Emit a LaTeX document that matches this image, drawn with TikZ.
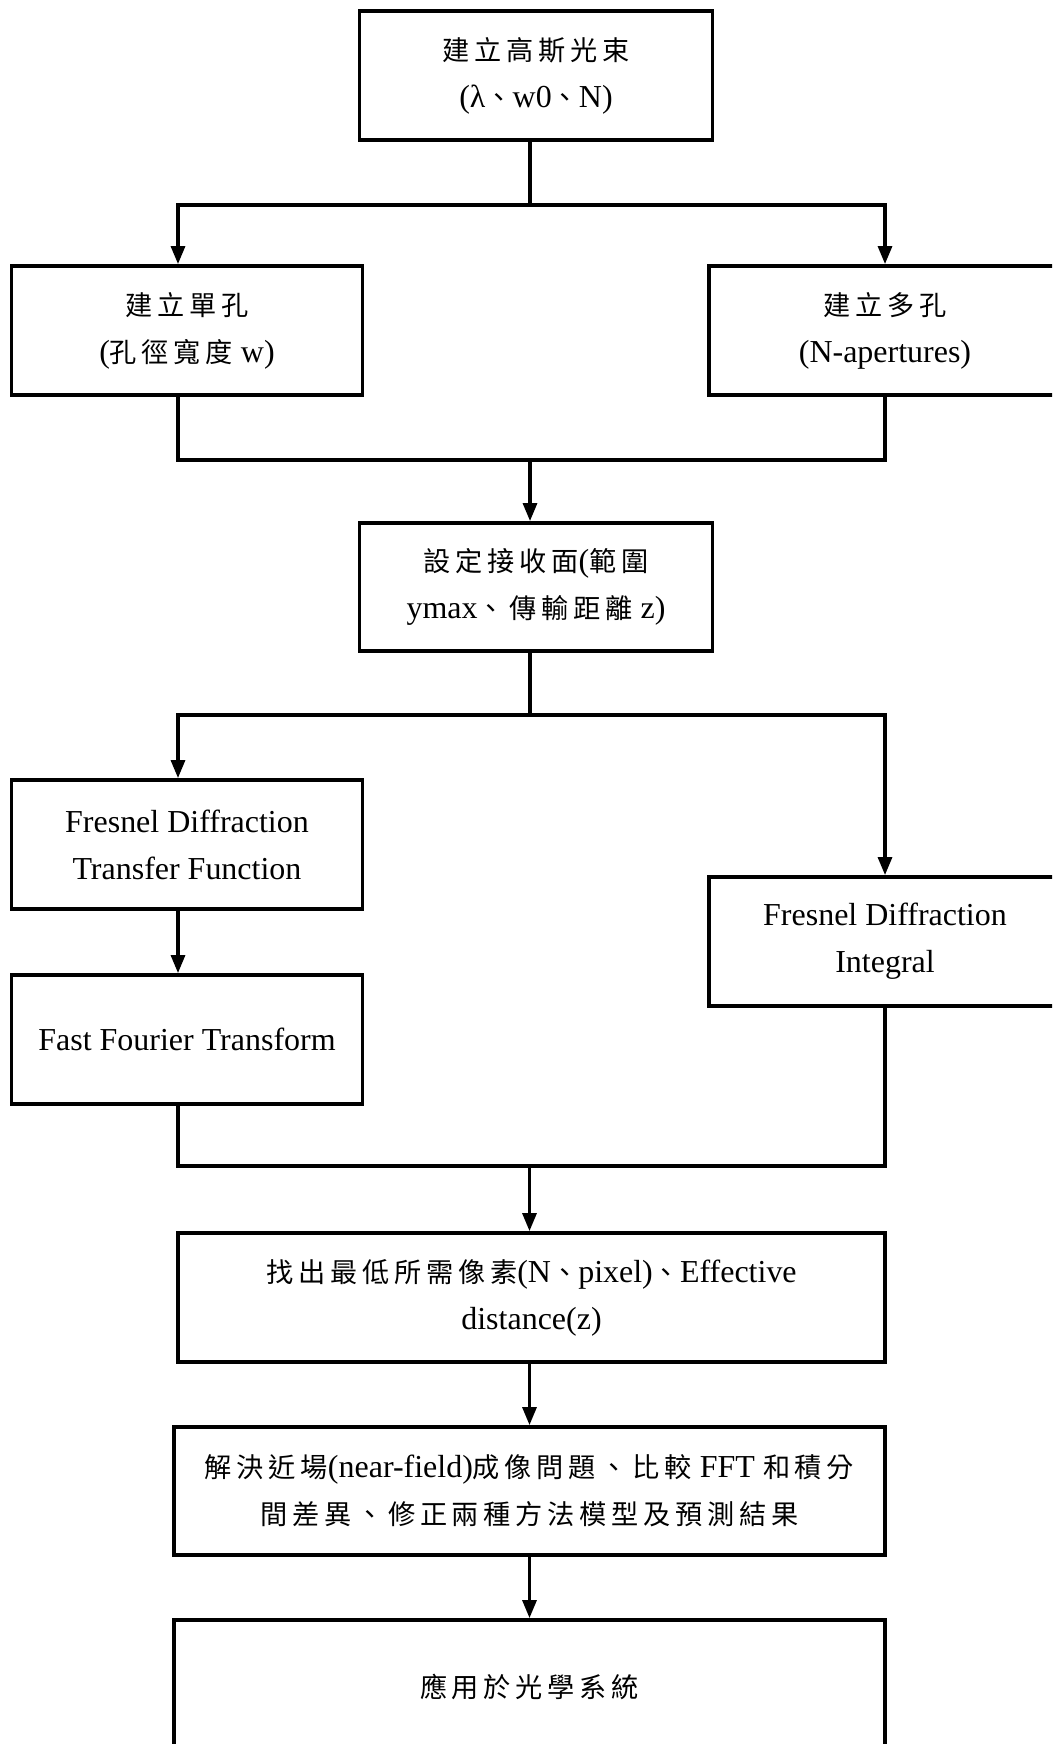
\documentclass[tikz,border=0pt]{standalone}
\usepackage{fontspec}
\setmainfont{Liberation Serif}
\newfontfamily\zh[Scale=0.85,LetterSpace=17.6]{Noto Sans CJK TC}
\usetikzlibrary{arrows.meta, positioning, calc}
\tikzset{
    procbox/.style={rectangle, draw=black, line width=2.2pt, fill=white, align=center, inner sep=2pt, minimum height=2.58cm, font=\fontsize{18.2}{26.7}\selectfont},
    flowline/.style={line width=1.8pt, black},
    flowarrow/.style={-{Triangle[length=0.36cm, width=0.28cm]}, line width=1.8pt, black},
}
\begin{document}
\begin{tikzpicture}
\useasboundingbox (0,0) rectangle (21.04,-34.88);
\begin{scope}
\clip (0,0) rectangle (21.04,-34.88);
\node[procbox, minimum width=7.06cm] (gauss) at (10.72,-1.51)
    {{\zh 建立高斯光束}\\(λ{\zh 、}w0{\zh 、}N)};
\node[procbox, minimum width=7.02cm] (single) at (3.74,-6.61)
    {{\zh 建立單孔}\\({\zh 孔徑寬度} w)};
\node[procbox, minimum width=7.04cm] (multi) at (17.70,-6.61)
    {{\zh 建立多孔}\\(N-apertures)};
\node[procbox, minimum width=7.06cm, minimum height=2.56cm] (screen) at (10.72,-11.74)
    {{\zh 設定接收面}({\zh 範圍}\\ymax{\zh 、傳輸距離} z)};
\node[procbox, minimum width=7.02cm] (fdtf) at (3.74,-16.89)
    {Fresnel Diffraction\\Transfer Function};
\node[procbox, minimum width=7.02cm] (fft) at (3.74,-20.79)
    {Fast Fourier Transform};
\node[procbox, minimum width=7.04cm] (fdi) at (17.70,-18.83)
    {Fresnel Diffraction\\Integral};
\node[procbox, minimum width=14.14cm] (pixel) at (10.63,-25.95)
    {{\zh 找出最低所需像素}(N{\zh 、}pixel){\zh 、}Effective\\distance(z)};
\node[procbox, minimum width=14.22cm, minimum height=2.56cm] (nearf) at (10.59,-29.82)
    {{\zh 解決近場}(near-field){\zh 成像問題、比較} FFT {\zh 和積分}\\{\zh 間差異、修正兩種方法模型及預測結果}};
\node[procbox, minimum width=14.22cm, minimum height=2.68cm] (apply) at (10.59,-33.74)
    {{\zh 應用於光學系統}};
% branch from the beam
\draw[flowline] ([xshift=-0.12cm]gauss.south) -- ++(0,-1.26) coordinate (split1);
\draw[flowarrow] (split1) -| ([xshift=-0.18cm]single.north);
\draw[flowarrow] (split1) -| (multi.north);
% merge apertures
\draw[flowline] ([xshift=-0.18cm]single.south) -- ++(0,-1.26) coordinate (merge1) -| (multi.south);
\draw[flowarrow] ([xshift=-0.12cm]screen.north |- merge1) -- ([xshift=-0.12cm]screen.north);
% branch to the two methods
\draw[flowline] ([xshift=-0.12cm]screen.south) -- ++(0,-1.24) coordinate (split2);
\draw[flowarrow] (split2) -| ([xshift=-0.18cm]fdtf.north);
\draw[flowarrow] (split2) -| (fdi.north);
\draw[flowarrow] ([xshift=-0.18cm]fdtf.south) -- ([xshift=-0.18cm]fft.north);
% merge methods
\draw[flowline] ([xshift=-0.18cm]fft.south) -- ++(0,-1.20) coordinate (merge2) -| (fdi.south);
\draw[flowarrow] (nearf.north |- merge2) -- (nearf.north |- pixel.north);
\draw[flowarrow] (nearf.north |- pixel.south) -- (nearf.north);
\draw[flowarrow] (nearf.south) -- (apply.north);
\end{scope}
\end{tikzpicture}
\end{document}
